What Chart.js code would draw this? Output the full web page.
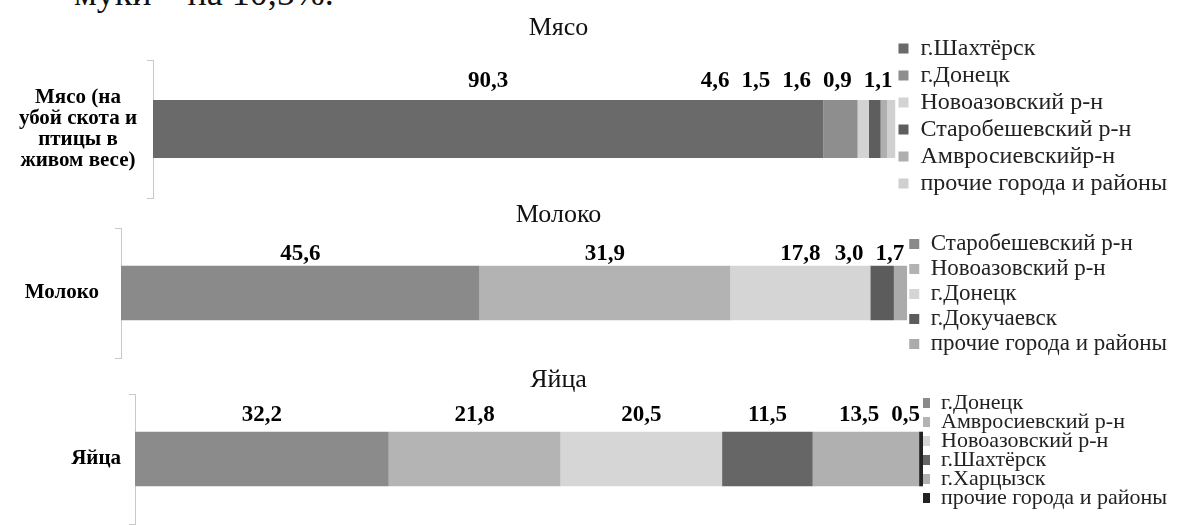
<!DOCTYPE html>
<html lang="ru">
<head>
<meta charset="UTF-8">
<title>Мясо, молоко, яйца</title>
<script src="https://cdn.jsdelivr.net/npm/chart.js"></script>
<style>
    html, body { margin: 0; padding: 0; background: #fff; }
    body { width: 1179px; height: 525px; overflow: hidden; position: relative; }
    .note { position: absolute; left: 74px; top: -25px; font: 36px/36px 'Liberation Serif', serif; color: #111; white-space: nowrap; }
    .box { position: absolute; left: -60px; width: 1239px; }
    #meatBox { top: 12px; height: 208px; }
    #milkBox { top: 200px; height: 188px; }
    #eggBox { top: 366px; height: 169px; }
</style>
</head>
<body>
<div class="note">муки – на 10,5%.</div>
<div class="box" id="meatBox"><canvas id="meatChart"></canvas></div>
<div class="box" id="milkBox"><canvas id="milkChart"></canvas></div>
<div class="box" id="eggBox"><canvas id="eggChart"></canvas></div>

<script>
// Мясо
const meatAxisLabel = ['Мясо (на', 'убой скота и', 'птицы в', 'живом весе)'];
const meatRegions = ['г.Шахтёрск', 'г.Донецк', 'Новоазовский р-н', 'Старобешевский р-н', 'Амвросиевскийр-н', 'прочие города и районы'];
const meatShares = [90.3, 4.6, 1.5, 1.6, 0.9, 1.1];

// Молоко
const milkAxisLabel = 'Молоко';
const milkRegions = ['Старобешевский р-н', 'Новоазовский р-н', 'г.Донецк', 'г.Докучаевск', 'прочие города и районы'];
const milkShares = [45.6, 31.9, 17.8, 3.0, 1.7];

// Яйца
const eggAxisLabel = 'Яйца';
const eggRegions = ['г.Донецк', 'Амвросиевский р-н', 'Новоазовский р-н', 'г.Шахтёрск', 'г.Харцызск', 'прочие города и районы'];
const eggShares = [32.2, 21.8, 20.5, 11.5, 13.5, 0.5];

const meatColors = ['#6a6a6a', '#8e8e8e', '#d3d3d3', '#5e5e5e', '#afafaf', '#d0d0d0'];
const milkColors = ['#8a8a8a', '#b3b3b3', '#d5d5d5', '#5c5c5c', '#ababab'];
const eggColors = ['#8b8b8b', '#b4b4b4', '#d6d6d6', '#666666', '#b0b0b0', '#222222'];

const SERIF = "'Liberation Serif', 'Times New Roman', serif";

// value labels above each segment; small neighbours are pushed apart so they stay readable
const segmentLabels = {
    id: 'segmentLabels',
    afterDatasetsDraw(chart, args, opts) {
        const ctx = chart.ctx;
        ctx.save();
        ctx.font = 'bold 23px ' + SERIF;
        ctx.fillStyle = '#000';
        ctx.textAlign = 'center';
        ctx.textBaseline = 'alphabetic';
        const items = chart.data.datasets.map((ds, i) => {
            const bar = chart.getDatasetMeta(i).data[0];
            const text = ds.data[0].toFixed(1).replace('.', ',');
            return { text, x: (bar.x + bar.base) / 2, w: ctx.measureText(text).width, top: bar.y - bar.height / 2 };
        });
        const gap = 12;
        for (let i = 1; i < items.length; i++) {
            const min = items[i - 1].x + (items[i - 1].w + items[i].w) / 2 + gap;
            if (items[i].x < min) items[i].x = min;
        }
        let maxRight = chart.chartArea.right - 3;
        for (let i = items.length - 1; i >= 0; i--) {
            if (items[i].x + items[i].w / 2 > maxRight) items[i].x = maxRight - items[i].w / 2;
            maxRight = items[i].x - items[i].w / 2 - gap;
        }
        items.forEach(it => ctx.fillText(it.text, it.x, it.top - opts.lift));
        ctx.restore();
    }
};

function makeChart(id, o) {
    new Chart(document.getElementById(id), {
        type: 'bar',
        data: {
            labels: [o.axisLabel],
            datasets: o.regions.map((name, i) => ({
                label: name,
                data: [o.shares[i]],
                backgroundColor: o.colors[i],
                borderWidth: 0,
                barPercentage: 0.42,
                categoryPercentage: 1
            }))
        },
        options: {
            indexAxis: 'y',
            responsive: true,
            maintainAspectRatio: false,
            animation: false,
            layout: { padding: { top: 0, bottom: 0, right: 2 } },
            scales: {
                // hidden value axis; its reserved height keeps the legend centred like the original
                x: {
                    stacked: true, min: 0, max: 100,
                    ticks: { display: false },
                    grid: { display: false },
                    border: { display: false },
                    afterFit(scale) { scale.height = o.bottomSpace; }
                },
                y: {
                    stacked: true,
                    offset: true,
                    afterFit(scale) {
                        scale.width = o.axisWidth;
                        scale.paddingTop = 0;
                        scale.paddingBottom = 0;
                    },
                    border: { display: true, color: '#c9c9c9' },
                    grid: { offset: true, drawOnChartArea: false, drawTicks: true, tickLength: 6, color: '#c9c9c9' },
                    ticks: {
                        crossAlign: 'center',
                        padding: o.tickPad,
                        color: '#000',
                        font: { family: SERIF, size: 21, weight: 'bold', lineHeight: 1.0 }
                    }
                }
            },
            plugins: {
                title: {
                    display: true,
                    text: o.title,
                    color: '#111',
                    font: { family: SERIF, size: 26, weight: 'normal', lineHeight: 1.0 },
                    padding: o.titlePad
                },
                legend: {
                    position: 'right',
                    labels: {
                        boxWidth: 10,
                        boxHeight: 10,
                        color: '#222',
                        padding: o.legendGap,
                        font: { family: SERIF, size: o.legendSize }
                    }
                },
                segmentLabels: { lift: o.labelLift },
                tooltip: { enabled: false }
            }
        },
        plugins: [segmentLabels]
    });
}

makeChart('meatChart', {
    title: 'Мясо', axisLabel: meatAxisLabel, regions: meatRegions, shares: meatShares, colors: meatColors,
    axisWidth: 213, tickPad: 10, titlePad: { top: 3, bottom: 19 }, bottomSpace: 22, legendSize: 24, legendGap: 3,
    labelLift: 13
});
makeChart('milkChart', {
    title: 'Молоко', axisLabel: milkAxisLabel, regions: milkRegions, shares: milkShares, colors: milkColors,
    axisWidth: 181, tickPad: 16, titlePad: { top: 2, bottom: 0 }, bottomSpace: 30, legendSize: 23, legendGap: 2,
    labelLift: 6
});
makeChart('eggChart', {
    title: 'Яйца', axisLabel: eggAxisLabel, regions: eggRegions, shares: eggShares, colors: eggColors,
    axisWidth: 195, tickPad: 8, titlePad: { top: 1, bottom: 1 }, bottomSpace: 11, legendSize: 22, legendGap: -3,
    labelLift: 11
});
</script>
</body>
</html>
